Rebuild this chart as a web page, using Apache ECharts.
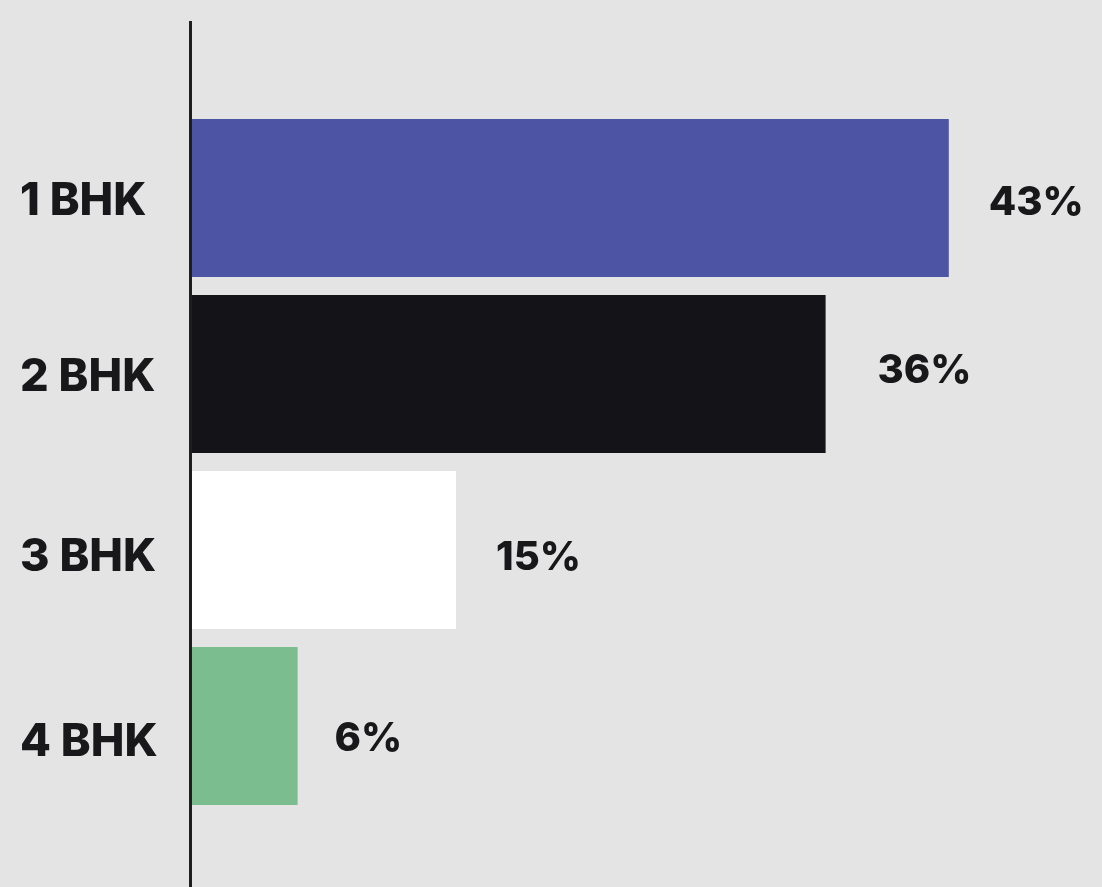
<!DOCTYPE html>
<html>
<head>
<meta charset="utf-8">
<title>BHK share</title>
<script src="https://cdn.jsdelivr.net/npm/echarts@6/dist/echarts.min.js"></script>
<style>
  html, body { margin: 0; padding: 0; background: #e4e4e4; }
  #chart { width: 1102px; height: 887px; }
</style>
</head>
<body>
<div id="chart"></div>
<script>
// Share of homes by configuration
const categories = ['1 BHK', '2 BHK', '3 BHK', '4 BHK'];
const shares = [43, 36, 15, 6];
const barColors = ['#4e54a4', '#141418', '#ffffff', '#7bbd8e'];

// small per-row nudges for the text beside each bar: [x, y] for values, y for categories
const valueLabelNudge = [[0, 5], [12, -3], [0, 8], [-3, 13]];
const categoryLabelNudge = [3, 3, 7, 16];

const FONT = 'Inter, "Liberation Sans", sans-serif';
const INK = '#18181b';

const categoryRich = {};
categoryLabelNudge.forEach((dy, i) => {
  categoryRich['r' + i] = {
    fontFamily: FONT,
    fontWeight: 800,
    fontSize: 45,
    color: INK,
    padding: [dy * 2, 0, 0, 0]
  };
});

const chart = echarts.init(document.getElementById('chart'), null, { renderer: 'canvas' });

const option = {
  backgroundColor: '#e4e4e4',
  animation: false,
  grid: {
    left: 192, right: 30, top: 110, bottom: 73,
    containLabel: false,
    outerBoundsMode: 'none'
  },
  xAxis: {
    type: 'value',
    min: 0,
    max: 50,
    show: false
  },
  yAxis: {
    type: 'category',
    inverse: true,
    data: categories,
    axisLine: { show: false },
    axisTick: { show: false },
    axisLabel: {
      align: 'left',
      margin: 172,
      formatter: (value, index) => '{r' + index + '|' + value + '}',
      rich: categoryRich
    }
  },
  series: [{
    type: 'bar',
    barCategoryGap: '10.2%',
    data: shares.map((v, i) => ({
      value: v,
      itemStyle: { color: barColors[i] },
      label: { offset: valueLabelNudge[i] }
    })),
    label: {
      show: true,
      position: 'right',
      distance: 40,
      formatter: '{c}%',
      fontFamily: FONT,
      fontWeight: 800,
      fontSize: 40,
      color: INK
    }
  }]
};

chart.setOption(option);

// vertical baseline at zero, running the full height of the page
const x0 = chart.convertToPixel({ xAxisIndex: 0 }, 0);
chart.setOption({
  graphic: [{
    type: 'line',
    z: 10,
    shape: { x1: x0 - 1.5, y1: 21, x2: x0 - 1.5, y2: 887 },
    style: { stroke: '#1e1e1e', lineWidth: 3 }
  }]
});
</script>
</body>
</html>
